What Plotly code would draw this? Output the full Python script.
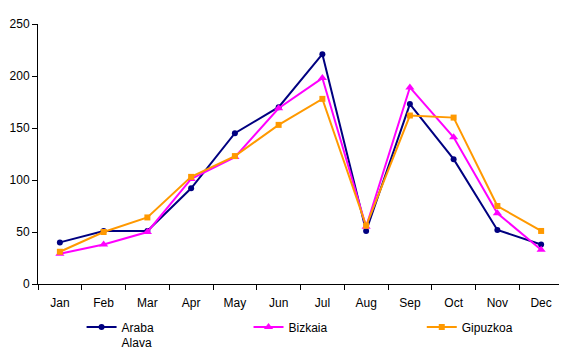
import plotly.graph_objects as go

months = ["Jan", "Feb", "Mar", "Apr", "May", "Jun", "Jul", "Aug", "Sep", "Oct", "Nov", "Dec"]
araba = [40, 51, 51, 92, 145, 170, 221, 51, 173, 120, 52, 38]
bizkaia = [29, 38, 50, 101, 122, 169, 198, 55, 189, 141, 68, 33]
gipuzkoa = [31, 50, 64, 103, 123, 153, 178, 56, 162, 160, 75, 51]
y_ticks = [0, 50, 100, 150, 200, 250]

fig = go.Figure()
fig.add_trace(go.Scatter(x=months, y=araba, name="Araba<br>Alava", mode="lines+markers",
                         line=dict(color="#000080", width=2), legend="legend",
                         marker=dict(symbol="circle", size=6, color="#000080")))
fig.add_trace(go.Scatter(x=months, y=bizkaia, name="Bizkaia", mode="lines+markers",
                         line=dict(color="#FF00FF", width=2), legend="legend2",
                         marker=dict(symbol="triangle-up", size=8, color="#FF00FF")))
fig.add_trace(go.Scatter(x=months, y=gipuzkoa, name="Gipuzkoa", mode="lines+markers",
                         line=dict(color="#FF9900", width=2), legend="legend3",
                         marker=dict(symbol="square", size=6, color="#FF9900")))

leg_common = dict(orientation="h", xanchor="left", y=-0.11, yanchor="top",
                  valign="top", font=dict(size=12, color="black"), itemwidth=30,
                  bgcolor="rgba(0,0,0,0)")

# page body has an 8px default margin, so the figure is offset to compensate;
# the extra height below the window edge is blank and keeps the legend from pushing margins
fig.update_layout(
    width=559, height=365,
    margin=dict(l=30, r=4, t=16, b=89),
    paper_bgcolor="white", plot_bgcolor="white",
    font=dict(family="Liberation Sans, Arial", size=12, color="black"),
    showlegend=True,
    legend=dict(x=0.083, **leg_common),
    legend2=dict(x=0.401, **leg_common),
    legend3=dict(x=0.731, **leg_common),
    xaxis=dict(showline=True, linecolor="black", linewidth=1, ticks="outside",
               tickson="boundaries", ticklen=5, tickcolor="black", showgrid=False,
               range=[-0.5, 11.5], zeroline=False, ticklabelstandoff=8,
               automargin=False),
    yaxis=dict(showline=True, linecolor="black", linewidth=1, ticks="outside",
               ticklen=5, tickcolor="black", showgrid=False, range=[0, 250],
               tickvals=y_ticks, zeroline=False, ticklabelstandoff=0,
               automargin=False),
)
fig.write_html("out.html")
